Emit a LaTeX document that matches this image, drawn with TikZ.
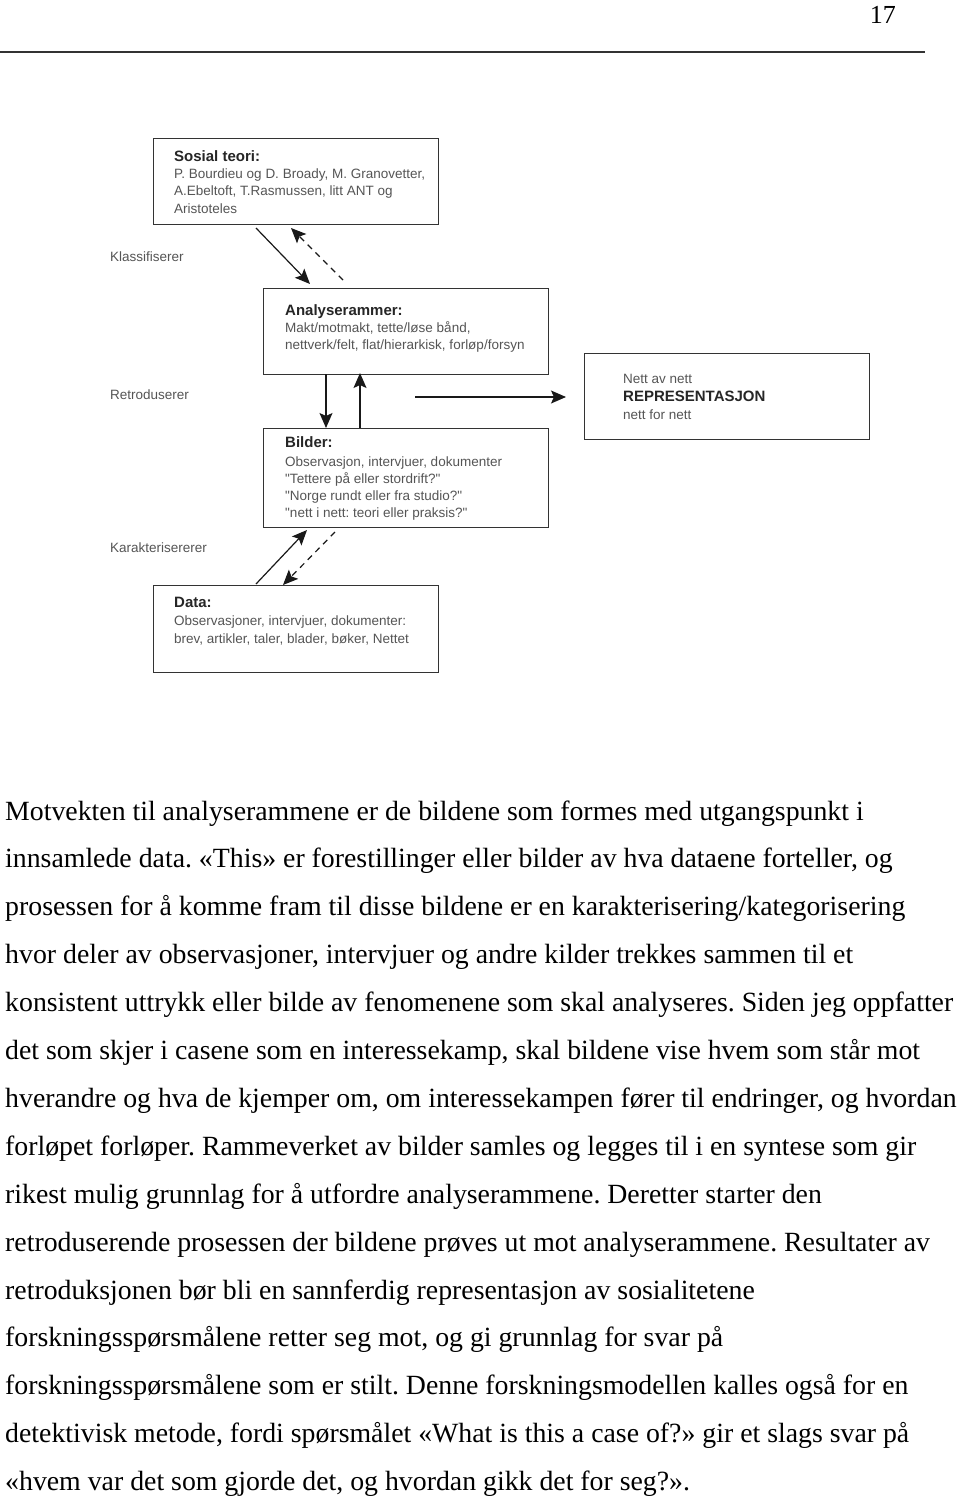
\documentclass[tikz,border=0pt]{standalone}
\usepackage{fontspec}
\setmainfont{Liberation Serif}
\newfontfamily\diag{Liberation Sans}
\usetikzlibrary{arrows.meta}
\definecolor{txtgray}{HTML}{555555}
\definecolor{boxline}{HTML}{333333}
\frenchspacing
\begin{document}
\begin{tikzpicture}[x=1pt,y=-1pt,
  box/.style={draw=boxline, line width=1.3pt, minimum width=285pt, minimum height=86pt, inner sep=0pt, anchor=north west},
  ttl/.style={anchor=base west, inner sep=0pt, font=\diag\fontsize{15}{17}\selectfont\bfseries, text=black!85},
  dtxt/.style={anchor=base west, inner sep=0pt, font=\diag\fontsize{13.5}{15}\selectfont, text=txtgray},
  body/.style={anchor=base west, inner sep=0pt, font=\fontsize{27.8}{32}\selectfont},
  arr/.style={-{Stealth[length=15pt,width=13pt,inset=3pt]}, line width=1.2pt, draw=black!90},
  darr/.style={arr, dash pattern=on 6pt off 5pt}
]
\useasboundingbox (0,0) rectangle (960,1497);
\fill[white] (0,0) rectangle (960,1497);

% header
\node[anchor=base east, inner sep=0pt, font=\fontsize{26}{28}\selectfont] (pnum) at (896,23) {17};
\coordinate (ruleL) at (0,52);
\coordinate (ruleR) at (925,52);
\draw[line width=1.6pt, black!80] (ruleL) -- (ruleR);

% boxes
\node[box] (sosial) at (153,138) {};
\node[box] (analyse) at (263,288) {};
\node[box] (repr) at (584,353) {};
\node[box, minimum height=99pt] (bilder) at (263,428) {};
\node[box, minimum height=87pt] (data) at (153,585) {};

% box texts
\node[ttl] (t1) at (174,161) {Sosial teori:};
\node[dtxt] (t1a) at (174,178) {P. Bourdieu og D. Broady, M. Granovetter,};
\node[dtxt] (t1b) at (174,195) {A.Ebeltoft, T.Rasmussen, litt ANT og};
\node[dtxt] (t1c) at (174,213) {Aristoteles};

\node[ttl] (t2) at (285,315) {Analyserammer:};
\node[dtxt] (t2a) at (285,332) {Makt/motmakt, tette/løse bånd,};
\node[dtxt] (t2b) at (285,349) {nettverk/felt, flat/hierarkisk, forløp/forsyn};

\node[dtxt] (t3a) at (623,383) {Nett av nett};
\node[ttl] (t3) at (623,401) {REPRESENTASJON};
\node[dtxt] (t3b) at (623,419) {nett for nett};

\node[ttl] (t4) at (285,447) {Bilder:};
\node[dtxt] (t4a) at (285,466) {Observasjon, intervjuer, dokumenter};
\node[dtxt] (t4b) at (285,483) {"Tettere på eller stordrift?"};
\node[dtxt] (t4c) at (285,500) {"Norge rundt eller fra studio?"};
\node[dtxt] (t4d) at (285,517) {"nett i nett: teori eller praksis?"};

\node[ttl] (t5) at (174,607) {Data:};
\node[dtxt] (t5a) at (174,625) {Observasjoner, intervjuer, dokumenter:};
\node[dtxt] (t5b) at (174,643) {brev, artikler, taler, blader, bøker, Nettet};

% side labels
\node[dtxt] (l1) at (110,261) {Klassifiserer};
\node[dtxt] (l2) at (110,399) {Retroduserer};
\node[dtxt] (l3) at (110,552) {Karakterisererer};

% arrows
\coordinate (a1s) at (256,228); \coordinate (a1e) at (310,284);
\coordinate (a2s) at (343,280); \coordinate (a2e) at (291,228);
\coordinate (a3s) at (326,374); \coordinate (a3e) at (326,428);
\coordinate (a4s) at (360,428); \coordinate (a4e) at (360,373);
\coordinate (a5s) at (415,397); \coordinate (a5e) at (566,397);
\coordinate (a6s) at (256,584); \coordinate (a6e) at (307,530);
\coordinate (a7s) at (335,532); \coordinate (a7e) at (283,585);
\draw[arr] (a1s) -- (a1e);
\draw[darr] (a2s) -- (a2e);
\draw[arr] (a3s) -- (a3e);
\draw[arr] (a4s) -- (a4e);
\draw[arr] (a5s) -- (a5e);
\draw[arr] (a6s) -- (a6e);
\draw[darr] (a7s) -- (a7e);

% body text
\foreach \i/\s in {
0/{Motvekten til analyserammene er de bildene som formes med utgangspunkt i},
1/{innsamlede data. «This» er forestillinger eller bilder av hva dataene forteller, og},
2/{prosessen for å komme fram til disse bildene er en karakterisering/kategorisering},
3/{hvor deler av observasjoner, intervjuer og andre kilder trekkes sammen til et},
4/{konsistent uttrykk eller bilde av fenomenene som skal analyseres. Siden jeg oppfatter},
5/{det som skjer i casene som en interessekamp, skal bildene vise hvem som står mot},
6/{hverandre og hva de kjemper om, om interessekampen fører til endringer, og hvordan},
7/{forløpet forløper. Rammeverket av bilder samles og legges til i en syntese som gir},
8/{rikest mulig grunnlag for å utfordre analyserammene. Deretter starter den},
9/{retroduserende prosessen der bildene prøves ut mot analyserammene. Resultater av},
10/{retroduksjonen bør bli en sannferdig representasjon av sosialitetene},
11/{forskningsspørsmålene retter seg mot, og gi grunnlag for svar på},
12/{forskningsspørsmålene som er stilt. Denne forskningsmodellen kalles også for en},
13/{detektivisk metode, fordi spørsmålet «What is this a case of?» gir et slags svar på},
14/{«hvem var det som gjorde det, og hvordan gikk det for seg?».}}
{\node[body] (line\i) at (5,{820+47.9*\i}) {\s};}
\end{tikzpicture}
\end{document}
